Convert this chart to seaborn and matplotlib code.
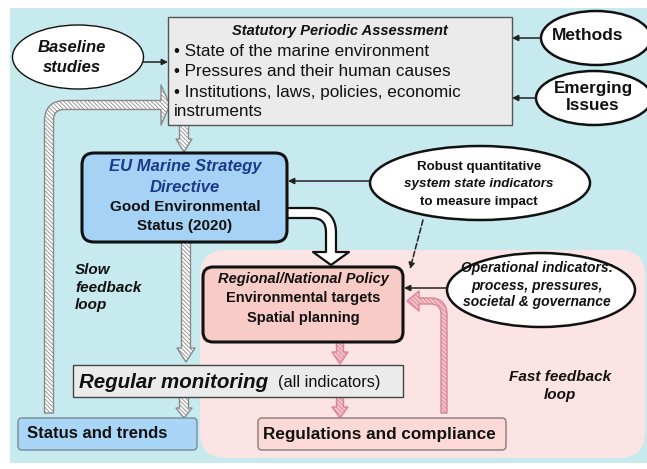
import numpy as np
import matplotlib
matplotlib.use('Agg')
import matplotlib.pyplot as plt
import seaborn as sns
from matplotlib.patches import FancyBboxPatch, Ellipse, Polygon, Rectangle

# Texts of the diagram
assessment_title = 'Statutory Periodic Assessment'
assessment_items = ['• State of the marine environment',
                    '• Pressures and their human causes',
                    '• Institutions, laws, policies, economic',
                    'instruments']
baseline_lines = ['Baseline', 'studies']
methods_lines = ['Methods']
emerging_lines = ['Emerging', 'Issues']
msd_lines = ['EU Marine Strategy', 'Directive', 'Good Environmental', 'Status (2020)']
robust_lines = ['Robust quantitative', 'system state indicators', 'to measure impact']
operational_lines = ['Operational indicators:', 'process, pressures,', 'societal & governance']
policy_lines = ['Regional/National Policy', 'Environmental targets', 'Spatial planning']
monitoring_label = ['Regular monitoring', '(all indicators)']
slow_lines = ['Slow', 'feedback', 'loop']
fast_lines = ['Fast feedback', 'loop']
status_label = 'Status and trends'
regulation_label = 'Regulations and compliance'

CYAN = '#c7eaee'
PINK_BG = '#fde4e4'
GRAY_BOX = '#ebebeb'
BLUE_BOX = '#a6d3f5'
PINK_BOX = '#f8cbc6'
NAVY = '#1b3a8a'
HATCH = '\\' * 8

sns.set_theme(style='white')
plt.rcParams['font.family'] = ['Liberation Sans', 'DejaVu Sans']
plt.rcParams['hatch.linewidth'] = 0.6


def corner_path(p0, corner, p1, r, n=24):
    p0, corner, p1 = map(np.asarray, (p0, corner, p1))
    d0 = (corner - p0) / np.linalg.norm(corner - p0)
    d1 = (p1 - corner) / np.linalg.norm(p1 - corner)
    a = corner - d0 * r
    b = corner + d1 * r
    t = np.linspace(0, 1, n)[:, None]
    bez = (1 - t) ** 2 * a + 2 * (1 - t) * t * corner + t ** 2 * b
    return np.vstack([p0, bez, p1])


def band_arrow(ax, pts, width, head_w, head_len, fc, ec, hatch=None, lw=1.0, z=3):
    pts = np.asarray(pts, dtype=float)
    d = np.gradient(pts, axis=0)
    d /= np.linalg.norm(d, axis=1)[:, None]
    nrm = np.column_stack([-d[:, 1], d[:, 0]])
    left = pts + nrm * width / 2
    right = pts - nrm * width / 2
    end, dend, nend = pts[-1], d[-1], nrm[-1]
    head = [end + nend * head_w / 2, end + dend * head_len, end - nend * head_w / 2]
    poly = np.vstack([left, head, right[::-1]])
    ax.add_patch(Polygon(poly, closed=True, facecolor=fc, edgecolor=ec,
                         hatch=hatch, lw=lw, zorder=z, joinstyle='round'))


def line_arrow(ax, start, end, ls='-'):
    ax.annotate('', xy=end, xytext=start,
                arrowprops=dict(arrowstyle='-|>', color='#222222', lw=1.1,
                                ls=ls, mutation_scale=9, shrinkA=0, shrinkB=0),
                zorder=6)


def lines(ax, x, ys, texts, styles, size, color='#111111', ha='center'):
    for y, t, (w, s) in zip(ys, texts, styles):
        ax.text(x, y, t, ha=ha, va='center', fontsize=size, fontweight=w,
                fontstyle=s, color=color, zorder=8)


fig = plt.figure(figsize=(6.47, 4.69), dpi=100)
ax = fig.add_axes([0, 0, 1, 1])
ax.set_xlim(0, 647)
ax.set_ylim(469, 0)
ax.axis('off')

# backgrounds
ax.add_patch(Rectangle((10, 8), 640, 455, facecolor=CYAN, edgecolor='none', zorder=0))
ax.add_patch(FancyBboxPatch((200, 250), 445, 208, boxstyle='round,pad=0,rounding_size=26',
                            facecolor=PINK_BG, edgecolor='none', zorder=1))

# boxes
ax.add_patch(Rectangle((168, 17), 344, 108, facecolor=GRAY_BOX, edgecolor='#555555', lw=1, zorder=4))
ax.add_patch(FancyBboxPatch((82, 153), 205, 89, boxstyle='round,pad=0,rounding_size=12',
                            facecolor=BLUE_BOX, edgecolor='#111111', lw=2.2, zorder=4))
ax.add_patch(FancyBboxPatch((203, 267), 200, 75, boxstyle='round,pad=0,rounding_size=10',
                            facecolor=PINK_BOX, edgecolor='#111111', lw=2.2, zorder=4))
ax.add_patch(Rectangle((73, 365), 330, 32, facecolor=GRAY_BOX, edgecolor='#444444', lw=1, zorder=4))
ax.add_patch(FancyBboxPatch((18, 418), 179, 32, boxstyle='round,pad=0,rounding_size=4',
                            facecolor='#a9d5f7', edgecolor='#7a8a99', lw=1, zorder=4))
ax.add_patch(FancyBboxPatch((258, 418), 248, 32, boxstyle='round,pad=0,rounding_size=4',
                            facecolor='#fad9d6', edgecolor='#8a7a7a', lw=1, zorder=4))

# ellipses
for (cx, cy, w, h, lw) in [(78, 57, 131, 64, 1.0), (596, 38, 110, 54, 1.8),
                           (594, 98, 116, 54, 1.8), (480, 183, 220, 74, 1.8),
                           (541, 290, 188, 74, 1.8)]:
    ax.add_patch(Ellipse((cx, cy), w, h, facecolor='white', edgecolor='#111111', lw=lw, zorder=5))

# hatched arrows (slow loop, blue side)
hatch_fc, hatch_ec = 'white', '#8a8a8a'
band_arrow(ax, corner_path((49, 413), (49, 105), (161, 105), 16), 9, 40, 9,
           hatch_fc, hatch_ec, hatch=HATCH)
band_arrow(ax, [(184, 125), (184, 139)], 9, 16, 13, hatch_fc, hatch_ec, hatch=HATCH)
band_arrow(ax, [(186, 242), (186, 348)], 9, 18, 14, hatch_fc, hatch_ec, hatch=HATCH)
band_arrow(ax, [(184, 397), (184, 408)], 9, 16, 10, hatch_fc, hatch_ec, hatch=HATCH)

# hatched arrows (fast loop, pink side)
pink_fc, pink_ec = '#f6c2cb', '#d98596'
band_arrow(ax, [(340, 342), (340, 352)], 7, 16, 12, pink_fc, pink_ec, hatch=HATCH)
band_arrow(ax, [(340, 397), (340, 407)], 7, 16, 11, pink_fc, pink_ec, hatch=HATCH)
band_arrow(ax, corner_path((444, 413), (444, 301), (419, 301), 14), 6, 20, 12,
           pink_fc, pink_ec, hatch=HATCH)

# hollow arrow from MSD to policy
band_arrow(ax, corner_path((287, 213), (331, 213), (331, 252), 20), 10, 36, 13,
           'white', '#111111', lw=1.6, z=3)

# thin connectors
line_arrow(ax, (143, 62), (168, 62))
line_arrow(ax, (541, 38), (512, 38))
line_arrow(ax, (536, 98), (512, 98))
line_arrow(ax, (370, 181), (288, 181))
line_arrow(ax, (423, 220), (410, 269), ls='--')
line_arrow(ax, (447, 288), (404, 288))

# text
lines(ax, 340, [31], [assessment_title], [('bold', 'italic')], 10.5)
lines(ax, 174, [51, 72, 92, 112], assessment_items, [('normal', 'normal')] * 4, 12.3, ha='left')
lines(ax, 72, [47, 68], baseline_lines, [('bold', 'italic')] * 2, 12)
lines(ax, 588, [36], methods_lines, [('bold', 'normal')], 12.5)
lines(ax, 593, [88, 106], emerging_lines, [('bold', 'normal')] * 2, 12.3)
lines(ax, 185, [166, 187], msd_lines[:2], [('bold', 'italic')] * 2, 12, color=NAVY)
lines(ax, 185, [207, 226], msd_lines[2:], [('bold', 'normal')] * 2, 11)
lines(ax, 479, [167, 184, 202], robust_lines,
      [('bold', 'normal'), ('bold', 'italic'), ('bold', 'normal')], 9.6)
lines(ax, 537, [268, 286, 302], operational_lines, [('bold', 'italic')] * 3, 10)
lines(ax, 303, [279, 298, 318], policy_lines,
      [('bold', 'italic'), ('bold', 'normal'), ('bold', 'normal')], 10.5)
ax.text(79, 382, monitoring_label[0], ha='left', va='center', fontsize=14.8,
        fontweight='bold', fontstyle='italic', color='#111111', zorder=8)
ax.text(278, 383, monitoring_label[1], ha='left', va='center', fontsize=11.8,
        color='#111111', zorder=8)
lines(ax, 75, [270, 288, 305], slow_lines, [('bold', 'italic')] * 3, 11, ha='left')
lines(ax, 560, [377, 395], fast_lines, [('bold', 'italic')] * 2, 11)
lines(ax, 27, [434], [status_label], [('bold', 'normal')], 12, ha='left')
lines(ax, 263, [434], [regulation_label], [('bold', 'normal')], 12.3, ha='left')

fig.savefig('out.png', dpi=100, facecolor='white')
